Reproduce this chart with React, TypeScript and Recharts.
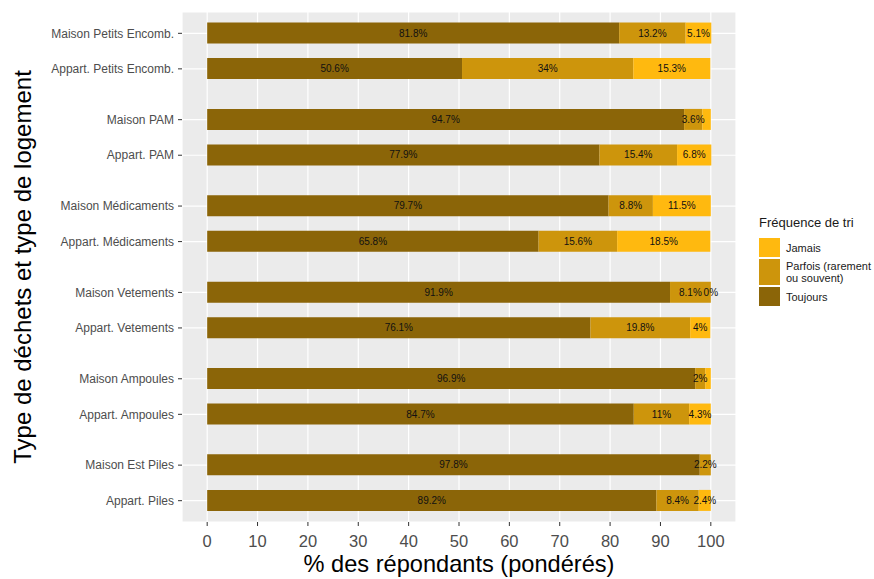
import React from 'react';
import { BarChart, Bar, XAxis, YAxis, CartesianGrid, Legend, LabelList } from 'recharts';

const categories = [
  'Maison Petits Encomb.',
  'Appart. Petits Encomb.',
  'Maison PAM',
  'Appart. PAM',
  'Maison Médicaments',
  'Appart. Médicaments',
  'Maison Vetements',
  'Appart. Vetements',
  'Maison Ampoules',
  'Appart. Ampoules',
  'Maison Est Piles',
  'Appart. Piles',
];
const toujours = [81.8, 50.6, 94.7, 77.9, 79.7, 65.8, 91.9, 76.1, 96.9, 84.7, 97.8, 89.2];
const parfois = [13.2, 34, 3.6, 15.4, 8.8, 15.6, 8.1, 19.8, 2, 11, 2.2, 8.4];
const jamais = [5.1, 15.3, 1.7, 6.8, 11.5, 18.5, 0, 4, 1.1, 4.3, 0, 2.4];
const xTicks = [0, 10, 20, 30, 40, 50, 60, 70, 80, 90, 100];

const FONT = '"Liberation Sans", Arial, Helvetica, sans-serif';
const colors = { toujours: '#8B6508', parfois: '#CD950C', jamais: '#FFB90F' };

// pairs (Maison / Appart.) sit closer together than the groups
const posOf = (i: number) => Math.floor(i / 2) * 2.43 + (i % 2);

const data = categories.map((name, i) => ({
  name,
  pos: posOf(i),
  toujours: toujours[i],
  parfois: parfois[i],
  jamais: jamais[i],
}));
const yTicks = data.map((d) => d.pos);

const labelFor = (v: number) => {
  const i = yTicks.findIndex((t) => Math.abs(t - v) < 1e-6);
  return i >= 0 ? categories[i] : '';
};

const valueText = (cx: number, cy: number, v: number, key: string) => (
  <text
    key={key}
    x={cx}
    y={cy}
    textAnchor="middle"
    dominantBaseline="central"
    fontSize={10}
    fontFamily={FONT}
    fill="#111"
  >
    {`${v}%`}
  </text>
);

const renderToujours = (props: any) => {
  const { x, y, width, height, value } = props;
  return valueText(Number(x) + Number(width) / 2, Number(y) + Number(height) / 2, value, 't');
};

// the Parfois segment never has a zero width, so its label list also carries the
// Jamais labels (zero-width bars are skipped by recharts, which would drop "0%")
const renderParfoisJamais = (props: any) => {
  const { x, y, width, height, value, index } = props;
  const cy = Number(y) + Number(height) / 2;
  const pxPerUnit = Number(width) / parfois[index];
  const jx = Number(x) + Number(width) + (jamais[index] * pxPerUnit) / 2;
  // ggplot check_overlap drops the Jamais label when it collides with the Parfois one
  const showJamais = (parfois[index] + jamais[index]) / 2 >= 3.5;
  return (
    <g>
      {valueText(Number(x) + Number(width) / 2, cy, value, 'p')}
      {showJamais && valueText(jx, cy, jamais[index], 'j')}
    </g>
  );
};

const legendItems = [
  { label: ['Jamais'], color: colors.jamais, h: 19 },
  { label: ['Parfois (rarement', 'ou souvent)'], color: colors.parfois, h: 26 },
  { label: ['Toujours'], color: colors.toujours, h: 19 },
];

const LegendBox = () => (
  <div style={{ fontFamily: FONT, color: '#1a1a1a' }}>
    <div style={{ fontSize: 13, lineHeight: '15px', marginBottom: 8 }}>Fréquence de tri</div>
    {legendItems.map((it) => (
      <div key={it.label[0]} style={{ display: 'flex', alignItems: 'center', height: it.h, marginBottom: 2 }}>
        <div style={{ width: 21, height: it.h, background: it.color, marginRight: 6 }} />
        <div style={{ fontSize: 11, lineHeight: '12px' }}>
          {it.label.map((l) => (
            <div key={l}>{l}</div>
          ))}
        </div>
      </div>
    ))}
  </div>
);

export default function App() {
  return (
    <div style={{ position: 'absolute', left: 0, top: 0, width: 874, height: 579, background: '#fff' }}>
      <BarChart
        width={874}
        height={579}
        data={data}
        layout="vertical"
        margin={{ top: 12, right: 138, bottom: 0, left: 0 }}
      >
        <CartesianGrid fill="#EBEBEB" stroke="#ffffff" strokeWidth={1.2} />
        <XAxis
          type="number"
          domain={[-5, 105]}
          ticks={xTicks}
          allowDataOverflow
          height={57}
          axisLine={false}
          tickSize={4}
          tickMargin={9}
          tickLine={{ stroke: '#333333' }}
          tick={{ fontSize: 16.5, fill: '#4D4D4D', fontFamily: FONT }}
          label={(p: any) => (
            <text
              x={p.viewBox.x + p.viewBox.width / 2}
              y={572}
              textAnchor="middle"
              fontSize={23.6}
              fontFamily={FONT}
              fill="#000"
            >
              % des répondants (pondérés)
            </text>
          )}
        />
        <YAxis
          type="number"
          dataKey="pos"
          domain={[-0.6, 13.75]}
          ticks={yTicks}
          interval={0}
          tickFormatter={labelFor}
          width={182}
          axisLine={false}
          tickSize={4}
          tickMargin={4}
          tickLine={{ stroke: '#333333' }}
          tick={{ fontSize: 12, fill: '#4D4D4D', fontFamily: FONT }}
          label={(p: any) => (
            <text
              x={31}
              y={p.viewBox.y + p.viewBox.height / 2}
              transform={`rotate(-90, 31, ${p.viewBox.y + p.viewBox.height / 2})`}
              textAnchor="middle"
              fontSize={24}
              fontFamily={FONT}
              fill="#000"
            >
              Type de déchets et type de logement
            </text>
          )}
        />
        <Legend
          layout="horizontal"
          align="center"
          verticalAlign="middle"
          wrapperStyle={{ left: 759, top: 215, width: 115 }}
          content={() => <LegendBox />}
        />
        <Bar dataKey="toujours" stackId="a" fill={colors.toujours} barSize={21} isAnimationActive={false}>
          <LabelList dataKey="toujours" content={renderToujours} />
        </Bar>
        <Bar dataKey="parfois" stackId="a" fill={colors.parfois} barSize={21} isAnimationActive={false}>
          <LabelList dataKey="parfois" content={renderParfoisJamais} />
        </Bar>
        <Bar dataKey="jamais" stackId="a" fill={colors.jamais} barSize={21} isAnimationActive={false} />
      </BarChart>
    </div>
  );
}
